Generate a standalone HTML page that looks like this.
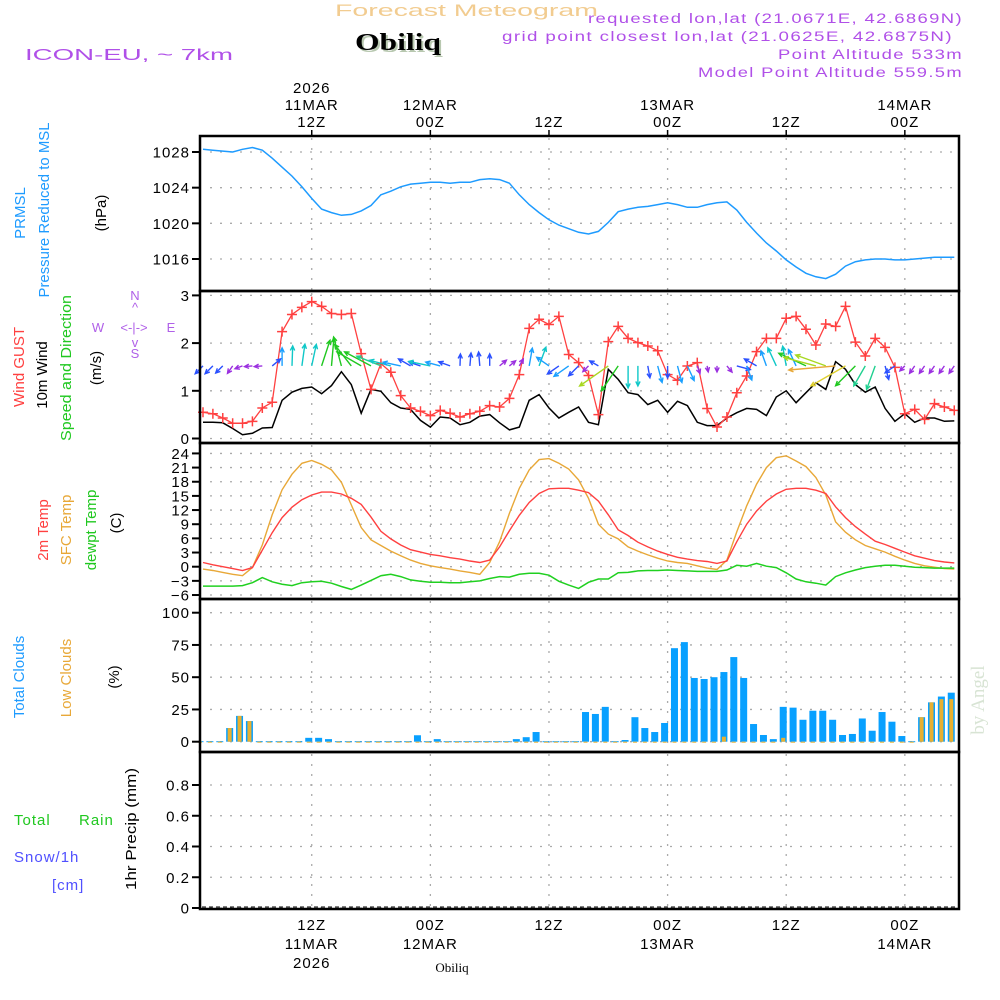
<!DOCTYPE html>
<html><head><meta charset="utf-8">
<style>
html,body{margin:0;padding:0;background:#fff;}
svg{display:block;font-family:"Liberation Sans",sans-serif;}
.lbl{font-size:15px;fill:#000;letter-spacing:1px;}
.pur{fill:#b050e8;font-size:13.5px;letter-spacing:1px;}
</style></head>
<body>
<svg id="chart" width="1000" height="1000" viewBox="0 0 1000 1000" xmlns="http://www.w3.org/2000/svg">
<text x="335" y="16" font-size="17" fill="#f2cc90" textLength="263" lengthAdjust="spacingAndGlyphs">Forecast Meteogram</text>
<text x="357" y="52" font-size="24" font-weight="bold" font-family="Liberation Serif,serif" fill="#b8c8b0" textLength="86" lengthAdjust="spacingAndGlyphs">Obiliq</text>
<text x="355" y="50" font-size="24" font-weight="bold" font-family="Liberation Serif,serif" fill="#000" textLength="86" lengthAdjust="spacingAndGlyphs">Obiliq</text>
<text x="25" y="60" font-size="16" fill="#b050e8" textLength="208" lengthAdjust="spacingAndGlyphs">ICON-EU, ~ 7km</text>
<text class="pur" x="588" y="23" textLength="375" lengthAdjust="spacingAndGlyphs">requested lon,lat (21.0671E, 42.6869N)</text>
<text class="pur" x="502" y="41" textLength="451" lengthAdjust="spacingAndGlyphs">grid point closest lon,lat (21.0625E, 42.6875N)</text>
<text class="pur" x="778" y="59" textLength="185" lengthAdjust="spacingAndGlyphs">Point Altitude 533m</text>
<text class="pur" x="698" y="77" textLength="265" lengthAdjust="spacingAndGlyphs">Model Point Altitude 559.5m</text>

<g font-size="15">
<text transform="translate(25,213) rotate(-90)" text-anchor="middle" fill="#1e9bff">PRMSL</text>
<text transform="translate(49,210) rotate(-90)" text-anchor="middle" fill="#1e9bff" textLength="175" lengthAdjust="spacingAndGlyphs">Pressure Reduced to MSL</text>
<text transform="translate(106,213) rotate(-90)" text-anchor="middle" fill="#000">(hPa)</text>
<text transform="translate(24,367) rotate(-90)" text-anchor="middle" fill="#ff4040">Wind GUST</text>
<text transform="translate(47,375) rotate(-90)" text-anchor="middle" fill="#000">10m Wind</text>
<text transform="translate(71,368) rotate(-90)" text-anchor="middle" fill="#20c820" textLength="146" lengthAdjust="spacingAndGlyphs">Speed and Direction</text>
<text transform="translate(101,368) rotate(-90)" text-anchor="middle" fill="#000">(m/s)</text>
<text transform="translate(48,530) rotate(-90)" text-anchor="middle" fill="#ff4040">2m Temp</text>
<text transform="translate(71,530) rotate(-90)" text-anchor="middle" fill="#e8a838">SFC Temp</text>
<text transform="translate(96,530) rotate(-90)" text-anchor="middle" fill="#20c820">dewpt Temp</text>
<text transform="translate(121,523) rotate(-90)" text-anchor="middle" fill="#000">(C)</text>
<text transform="translate(24,677) rotate(-90)" text-anchor="middle" fill="#1e9bff">Total Clouds</text>
<text transform="translate(71,678) rotate(-90)" text-anchor="middle" fill="#e8a838">Low Clouds</text>
<text transform="translate(119,677) rotate(-90)" text-anchor="middle" fill="#000">(%)</text>
<text transform="translate(136,829) rotate(-90)" text-anchor="middle" fill="#000" textLength="122" lengthAdjust="spacingAndGlyphs">1hr Precip (mm)</text>
<text x="14" y="825" fill="#20c820" letter-spacing="1">Total</text>
<text x="79" y="825" fill="#20c820" letter-spacing="1">Rain</text>
<text x="14" y="862" fill="#5050ff" letter-spacing="1">Snow/1h</text>
<text x="52" y="890" fill="#5050ff" letter-spacing="1">[cm]</text>
</g>
<g fill="#b060e8" font-size="13" text-anchor="middle">
<text x="135" y="300">N</text><text x="135" y="312">^</text>
<text x="98" y="332">W</text><text x="134" y="332">&lt;-|-&gt;</text><text x="171" y="332">E</text>
<text x="135" y="347">v</text><text x="135" y="358">S</text>
</g>
<text transform="translate(984,700) rotate(-90)" text-anchor="middle" font-family="Liberation Serif,serif" font-size="19" fill="#d8e4d4">by Angel</text>
<text x="452" y="972" text-anchor="middle" font-family="Liberation Serif,serif" font-size="13" fill="#000">Obiliq</text>
<g id="grid"></g>
<g id="marks"></g>
<g id="frame"></g>
</svg>
<script>
const pressure=[1028.3,1028.2,1028.1,1028.0,1028.3,1028.5,1028.2,1027.3,1026.3,1025.3,1024.1,1022.8,1021.6,1021.2,1020.9,1021.0,1021.4,1022.0,1023.2,1023.6,1024.1,1024.4,1024.5,1024.6,1024.6,1024.5,1024.6,1024.6,1024.9,1025.0,1024.9,1024.5,1023.2,1022.1,1021.2,1020.4,1019.8,1019.4,1019.0,1018.8,1019.1,1020.1,1021.3,1021.6,1021.8,1021.9,1022.1,1022.3,1022.1,1021.8,1021.8,1022.1,1022.3,1022.4,1021.5,1020.1,1018.9,1017.8,1016.9,1015.9,1015.1,1014.4,1014.0,1013.8,1014.3,1015.2,1015.7,1015.9,1016.0,1016.0,1015.9,1015.9,1016.0,1016.1,1016.2,1016.2,1016.2];
const gust=[0.55,0.52,0.43,0.32,0.32,0.36,0.64,0.76,2.24,2.6,2.75,2.87,2.77,2.62,2.6,2.62,1.78,1.03,1.57,1.39,0.9,0.64,0.57,0.48,0.59,0.53,0.45,0.52,0.57,0.69,0.66,0.84,1.34,2.31,2.5,2.39,2.56,1.76,1.59,1.32,0.5,2.03,2.35,2.1,2.01,1.94,1.84,1.34,1.22,1.52,1.59,0.63,0.24,0.45,0.96,1.31,1.82,2.1,2.1,2.52,2.56,2.29,1.96,2.4,2.35,2.77,2.02,1.73,2.1,1.91,1.49,0.52,0.61,0.4,0.73,0.66,0.59];
const wind10m=[0.34,0.34,0.33,0.21,0.08,0.11,0.22,0.23,0.8,0.97,1.05,1.08,0.94,1.11,1.4,1.13,0.53,1.03,0.99,0.75,0.64,0.61,0.38,0.24,0.45,0.43,0.29,0.34,0.47,0.5,0.33,0.18,0.24,0.8,0.92,0.64,0.43,0.55,0.66,0.34,0.29,1.45,1.24,0.96,0.92,0.71,0.8,0.55,0.78,0.69,0.34,0.27,0.27,0.43,0.54,0.63,0.61,0.48,0.87,1.0,0.75,0.96,1.17,1.03,1.61,1.45,1.13,0.97,1.08,0.63,0.36,0.52,0.34,0.43,0.43,0.36,0.37];
const arrowDir=[225,225,225,215,250,265,265,50,0,2,8,12,18,5,345,322,300,298,292,285,282,300,288,282,285,290,2,5,355,0,50,50,30,10,20,305,235,235,225,225,300,235,214,180,180,170,165,180,165,155,160,170,180,140,105,160,300,340,335,350,335,295,285,290,265,240,225,210,200,165,235,225,215,215,215,215,215];
const arrowSpd=[1.1,1.1,1.0,0.9,0.8,0.8,0.8,1.1,1.8,2.0,2.2,2.2,2.7,2.8,3.0,2.7,2.8,3.0,2.6,2.2,1.8,1.4,1.2,2.2,1.5,1.2,1.2,1.3,1.4,1.2,0.9,0.8,0.8,1.8,2.0,1.5,1.4,1.8,1.4,0.8,1.0,3.5,3.0,2.2,2.0,1.2,1.7,1.2,1.7,1.6,0.8,0.6,0.6,0.8,1.4,1.5,1.4,1.6,2.0,2.0,1.8,3.0,3.3,3.2,4.7,4.0,2.8,2.3,2.5,1.4,1.2,0.7,0.9,0.9,0.9,0.9,0.9];
const temp2m=[0.9,0.4,0,-0.4,-0.8,-0.2,3.5,7.2,10.4,12.6,14.2,15.2,15.8,15.8,15.4,14.5,13.2,10.5,7.5,5.9,4.6,3.6,3.1,2.6,2.3,1.9,1.6,1.2,0.9,1.4,4.2,7.6,10.9,13.6,15.5,16.5,16.6,16.6,16.2,15.7,13.9,11.0,7.8,6.6,5.2,4.2,3.3,2.6,2.0,1.6,1.3,1.1,0.7,1.2,5.3,9.0,11.8,13.9,15.4,16.4,16.6,16.6,16.2,15.5,12.7,10.4,8.5,6.9,5.4,4.7,3.9,3.1,2.3,1.8,1.3,1.0,0.8];
const tempSfc=[-0.5,-0.8,-1.2,-1.6,-1.9,-0.2,4.6,11.0,16.3,19.6,21.9,22.5,21.7,20.5,17.9,13.1,8.3,5.7,4.5,3.3,2.3,1.4,0.7,0.2,-0.2,-0.5,-0.9,-1.2,-1.6,0.9,5.3,11.3,16.6,20.5,22.7,22.9,21.9,20.7,18.4,14.5,9.0,6.9,5.9,4.2,3.3,2.5,1.8,1.2,0.9,0.7,0.2,-0.3,-0.6,1.4,7.4,12.9,17.5,21.0,23.1,23.5,22.4,21.2,18.9,15.2,9.5,7.3,5.7,4.5,3.8,3.1,2.2,1.4,0.7,0.2,-0.1,-0.4,-0.5];
const dewpt=[-4.1,-4.1,-4.1,-4.1,-4.0,-3.4,-2.3,-3.2,-3.7,-4.0,-3.4,-3.2,-3.1,-3.5,-4.2,-4.8,-3.9,-2.9,-1.9,-1.6,-2.1,-2.8,-3.1,-3.3,-3.3,-3.4,-3.4,-3.2,-3.0,-2.5,-2.1,-2.2,-1.6,-1.4,-1.4,-1.8,-3.1,-3.9,-4.6,-3.3,-2.6,-2.6,-1.3,-1.2,-0.9,-0.8,-0.8,-0.7,-0.8,-0.9,-1.0,-1.0,-1.0,-0.7,0.3,0.1,0.7,0.1,-0.2,-1.3,-2.6,-3.2,-3.5,-3.9,-2.1,-1.3,-0.7,-0.2,0.1,0.3,0.3,0.1,-0.1,-0.2,-0.3,-0.3,-0.3];
const totalClouds=[0,0,0,10.6,20,16,0,0,0,0,0,3,3,2,0,0,0,0,0,0,0,0,5,0,2,0,0,0,0,0,0,0,2,3.5,7.5,0,0,0,0,23,21.5,27,0,1.3,19,10.6,7.5,14.5,72.5,77.2,49.4,48.6,50,54,65.6,49.4,13.7,5.2,2,27,26.4,17,24,24,17,5.2,6,18,8.5,23,15.5,4.4,0,19,30.5,35,38];
const lowClouds=[0,0,0,10.6,20,16,0,0,0,0,0,0,0,0,0,0,0,0,0,0,0,0,0,0,0,0,0,0,0,0,0,0,0,0,0,0,0,0,0,0,0,0,0,0,0,0,0,0,0,0,0,0,0,3.9,0,0,0,0,0,3,0,0,0,0,0,0,0,0,0,0,0,0,0,19,30.5,33,33];
const pressTicks=[1016,1020,1024,1028];
const windTicks=[0,1,2,3];
const tempTicks=[-6,-3,0,3,6,9,12,15,18,21,24];
const cloudTicks=[0,25,50,75,100];
const precipTicks=[0,0.2,0.4,0.6,0.8];
const precipTickLabels=["0","0.2","0.4","0.6","0.8"];
const timeHours=[11,23,35,47,59,71];
const topLabels=[["2026","11MAR","12Z"],["12MAR","00Z"],["12Z"],["13MAR","00Z"],["12Z"],["14MAR","00Z"]];
const botLabels=[["12Z","11MAR","2026"],["00Z","12MAR"],["12Z"],["00Z","13MAR"],["12Z"],["00Z","14MAR"]];

const L=200,R=959;
const xS=i=>203+i*9.885;
const yP=v=>152+(1028-v)*8.917;
const yW=v=>438.5-v*47.7;
const yT=v=>566.7-v*4.72;
const yC=v=>741.7-v*1.29;
const yR=v=>908-v*153.75;
const NS="http://www.w3.org/2000/svg";
function mk(tag,attrs,parent){const e=document.createElementNS(NS,tag);for(const k in attrs)e.setAttribute(k,attrs[k]);parent.appendChild(e);return e;}
const grid=document.getElementById('grid'),marks=document.getElementById('marks'),frame=document.getElementById('frame');
const panels=[[136,291,pressTicks,yP,pressTicks.map(String),'pressure'],[291,443,windTicks,yW,windTicks.map(String),'wind'],[443,599,tempTicks,yT,tempTicks.map(v=>v<0?'\u2212'+(-v):String(v)),'temp'],[599,752,cloudTicks,yC,cloudTicks.map(String),'cloud'],[752,909,precipTicks,yR,precipTickLabels,'precip']];
panels.forEach(p=>{
  const [top,bot,ticks,ys,labs,nm]=p;
  ticks.forEach((t,k)=>{
    const y=ys(t);
    const gl=mk('line',{x1:L+10,x2:R,y1:y,y2:y,stroke:'#aaa','stroke-dasharray':'2,8','stroke-width':1.3},grid);
    
    
    const tk=mk('line',{x1:L-8,x2:L,y1:y,y2:y,stroke:'#000','stroke-width':2},frame);
    
    
    const tx=mk('text',{x:190,y:y+5.5,'text-anchor':'end',class:'lbl','font-size':(nm==='temp'?14:15)},frame);
    tx.textContent=labs[k];
    
    
  });
  timeHours.forEach(h=>{
    const vl=mk('line',{x1:xS(h),x2:xS(h),y1:top+2,y2:bot,stroke:'#aaa','stroke-dasharray':'2,8','stroke-width':1.3},grid);
    
    
  });
  const bx=mk('rect',{x:L,y:top,width:R-L,height:bot-top,fill:'none',stroke:'#000','stroke-width':2.5},frame);
  
  
});
timeHours.forEach((h,k)=>{
  const x=xS(h);
  const tt=mk('line',{x1:x,x2:x,y1:130,y2:136,stroke:'#000','stroke-width':1.5},frame);
  
  
  const tl=topLabels[k];
  tl.forEach((s,j)=>{
    const t=mk('text',{x:x,y:127-(tl.length-1-j)*17,'text-anchor':'middle',class:'lbl','font-size':17},frame);
    t.textContent=s;
    
    
  });
  botLabels[k].forEach((s,j)=>{
    const t=mk('text',{x:x,y:930+j*19,'text-anchor':'middle',class:'lbl','font-size':17},frame);
    t.textContent=s;
    
    
  });
});
const pl=(arr,ys)=>arr.map((v,i)=>xS(i).toFixed(1)+','+ys(v).toFixed(1)).join(' ');
const pLine=mk('polyline',{points:pl(pressure,yP),fill:'none',stroke:'#1e9bff','stroke-width':1.5},marks);


const wLine=mk('polyline',{points:pl(wind10m,yW),fill:'none',stroke:'#000','stroke-width':1.5},marks);


const gLine=mk('polyline',{points:pl(gust,yW),fill:'none',stroke:'#ff4040','stroke-width':1.3},marks);


gust.forEach((v,i)=>{
  const x=xS(i),y=yW(v);
  const m=mk('path',{d:`M${x-5},${y}H${x+5}M${x},${y-5}V${y+5}`,stroke:'#ff4040','stroke-width':1.5},marks);
  
  
});
function arrowColor(s){if(s<1.0)return'#9b30e0';if(s<1.5)return'#2a50ff';if(s<1.9)return'#1aa0ff';if(s<2.3)return'#10c8c8';if(s<2.7)return'#20d090';if(s<3.1)return'#20c820';if(s<3.6)return'#a8d820';if(s<4.2)return'#e0d030';return'#e8a838';}
arrowDir.forEach((d,i)=>{
  const s=arrowSpd[i],len=s*10,a=d*Math.PI/180;
  const x0=xS(i),y0=yW(1.5)-1;
  const x1=x0+len*Math.sin(a),y1=y0-len*Math.cos(a);
  const h=5,b1=a+Math.PI-0.45,b2=a+Math.PI+0.45;
  const dd=`M${x0.toFixed(1)},${y0.toFixed(1)}L${x1.toFixed(1)},${y1.toFixed(1)}M${(x1+h*Math.sin(b1)).toFixed(1)},${(y1-h*Math.cos(b1)).toFixed(1)}L${x1.toFixed(1)},${y1.toFixed(1)}L${(x1+h*Math.sin(b2)).toFixed(1)},${(y1-h*Math.cos(b2)).toFixed(1)}`;
  const ar=mk('path',{d:dd,fill:'none',stroke:arrowColor(s),'stroke-width':1.4},marks);
  
  
});
const sLine=mk('polyline',{points:pl(tempSfc,yT),fill:'none',stroke:'#e8a838','stroke-width':1.4},marks);


const tLine=mk('polyline',{points:pl(temp2m,yT),fill:'none',stroke:'#ff4040','stroke-width':1.4},marks);


const dLine=mk('polyline',{points:pl(dewpt,yT),fill:'none',stroke:'#20d020','stroke-width':1.5},marks);


totalClouds.forEach((v,i)=>{
  const cx=xS(i)-3;
  if(v>0){
    const b=mk('rect',{x:cx-3.5,y:yC(v),width:7,height:yC(0)-yC(v),fill:'#08a0ff'},marks);
    
    
  } else {
    const z=mk('line',{x1:cx-3.5,x2:cx+3.5,y1:yC(0),y2:yC(0),stroke:'#08a0ff','stroke-width':1},marks);
    
    
  }
  const lv=lowClouds[i];
  if(lv>0){
    const b=mk('rect',{x:cx-2,y:yC(lv),width:4,height:yC(0)-yC(lv),fill:'#e8b030'},marks);
    
    
  } else {
    const z=mk('line',{x1:cx-2,x2:cx+2,y1:yC(0)+0.5,y2:yC(0)+0.5,stroke:'#e8b030','stroke-width':1},marks);
    
    
  }
});
const pz=mk('line',{x1:L+2,x2:R,y1:yR(0)-1,y2:yR(0)-1,stroke:'#000','stroke-dasharray':'4,3','stroke-width':1},marks);


</script>
</body></html>
